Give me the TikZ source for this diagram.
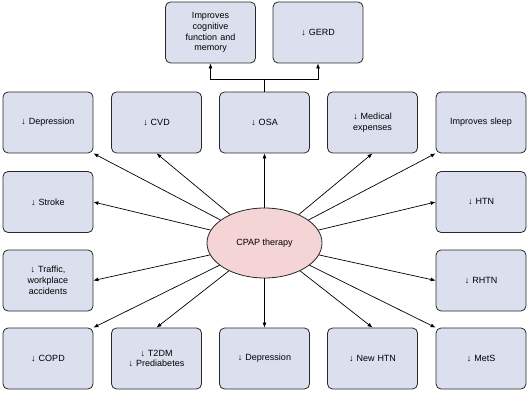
\documentclass[tikz,border=0pt]{standalone}
\usepackage{fontspec}
\setmainfont{Liberation Sans}
\usetikzlibrary{arrows.meta,shapes.geometric}
\definecolor{boxfill}{RGB}{220,224,238}
\definecolor{ellfill}{RGB}{244,212,212}
\definecolor{edge}{RGB}{40,40,40}
\begin{document}
\begin{tikzpicture}[x=1pt,y=-1pt,
  box/.style={draw=edge, fill=boxfill, rounded corners=5pt, minimum width=90pt,
    minimum height=61pt, text width=84pt, align=center, inner sep=0pt,
    line width=0.8pt, font=\fontsize{9}{10.8}\selectfont},
  hub/.style={ellipse, draw=edge, fill=ellfill, minimum width=115pt, minimum height=70pt,
    inner sep=0pt, line width=0.8pt, font=\fontsize{9}{10.8}\selectfont},
  arr/.style={-{Latex[length=5pt,width=4pt]}, line width=0.7pt, draw=black},
  link/.style={line width=0.7pt, draw=black}]
\useasboundingbox (0,0) rectangle (529,411);
% top boxes
\node[box] (cog) at (210.5,32.5) {Improves\\cognitive\\function and\\memory};
\node[box] (gerd) at (318,32.5) {↓ GERD};
% row 1
\node[box] (dep1) at (48,122.5) {↓ Depression};
\node[box] (cvd) at (156.5,122.5) {↓ CVD};
\node[box] (osa) at (264.5,122.5) {↓ OSA};
\node[box] (med) at (372.5,122.5) {↓ Medical\\expenses};
\node[box] (sleep) at (481,122.5) {Improves sleep};
% row 2
\node[box] (stroke) at (48,202) {↓ Stroke};
\node[box] (htn) at (481,202) {↓ HTN};
% row 3
\node[box] (traffic) at (48,280.5) {↓ Traffic,\\workplace\\accidents};
\node[box] (rhtn) at (481,280.5) {↓ RHTN};
% row 4
\node[box] (copd) at (48,358.5) {↓ COPD};
\node[box] (t2dm) at (156.5,358.5) {↓ T2DM\\↓ Prediabetes};
\node[box] (dep2) at (264.5,358.5) {↓ Depression};
\node[box] (newhtn) at (372.5,358.5) {↓ New HTN};
\node[box] (mets) at (481,358.5) {↓ MetS};
% hub
\node[hub] (cpap) at (264.5,243) {CPAP therapy};
% top branch
\coordinate (j) at (264.5,79);
\draw[link] (osa.north) -- (j);
\draw[arr] (j) -| (cog.south);
\draw[arr] (j) -| (gerd.south);
% radiating arrows
\draw[arr] (cpap) -- (dep1.south east);
\draw[arr] (cpap) -- (cvd.south);
\draw[arr] (cpap) -- (osa.south);
\draw[arr] (cpap) -- (med.south);
\draw[arr] (cpap) -- (sleep.south west);
\draw[arr] (cpap) -- (stroke.east);
\draw[arr] (cpap) -- (htn.west);
\draw[arr] (cpap) -- (traffic.east);
\draw[arr] (cpap) -- (rhtn.west);
\draw[arr] (cpap) -- (copd.north east);
\draw[arr] (cpap) -- (t2dm.north);
\draw[arr] (cpap) -- (dep2.north);
\draw[arr] (cpap) -- (newhtn.north);
\draw[arr] (cpap) -- (mets.north west);
\end{tikzpicture}
\end{document}
